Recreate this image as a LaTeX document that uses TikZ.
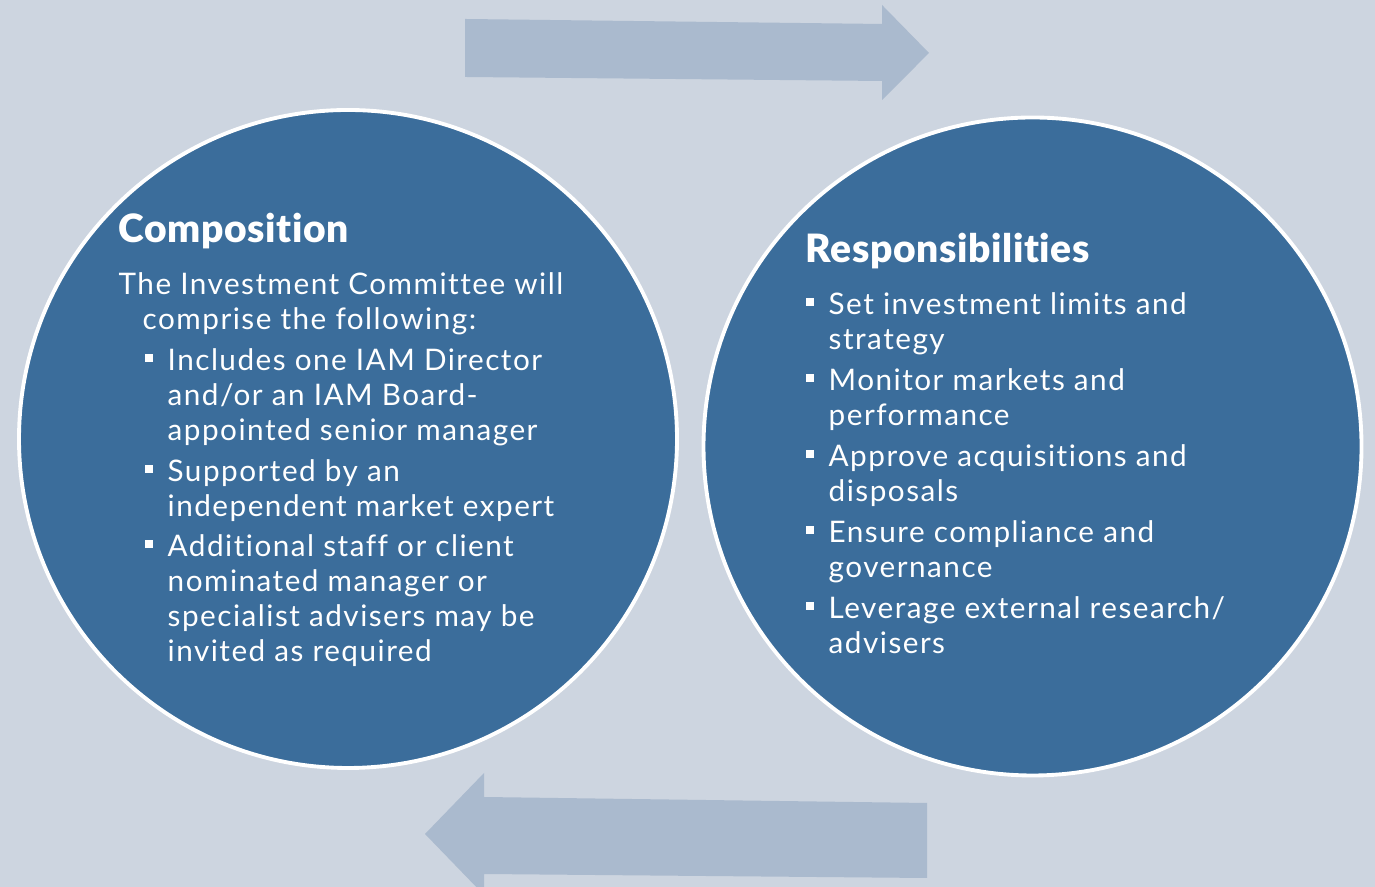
\documentclass[tikz,border=0pt]{standalone}
\usepackage{fontspec}
\setmainfont{Lato}[Ligatures=NoCommon, LetterSpace=5.0, BoldFont=* Black,
    BoldFeatures={LetterSpace=1.5}]
\usepackage{xcolor}
\usepackage{tikz}

\definecolor{backdrop}{HTML}{CDD5E0}
\definecolor{discblue}{HTML}{3B6D9B}
\definecolor{arrowgrey}{HTML}{AABACE}

\tikzset{
    heading/.style={anchor=base west, inner sep=0, text=white,
        font=\fontsize{11.1}{13}\bfseries\selectfont},
    bodytext/.style={anchor=north west, inner sep=0, text=white, align=left,
        font=\fontsize{8.45}{9.96}\selectfont},
    sqmark/.style={fill=white, inner sep=0, minimum size=0.085cm}
}

\begin{document}
\begin{tikzpicture}

    % Background
    \fill[backdrop] (0, 0) rectangle (13.75, 8.87);
    \useasboundingbox (0, 0) rectangle (13.75, 8.87);
    \clip (0, 0) rectangle (13.75, 8.87);

    % Top arrow
    \fill[arrowgrey] (4.65, 8.68) -- (8.82, 8.63) -- (8.82, 8.82) -- (9.29, 8.34)
        -- (8.82, 7.87) -- (8.82, 8.06) -- (4.65, 8.10) -- cycle;

    % Bottom arrow
    \fill[arrowgrey] (4.25, 0.53) -- (4.84, 1.14) -- (4.84, 0.90) -- (9.27, 0.84)
        -- (9.27, 0.09) -- (4.84, 0.13) -- (4.84, -0.08) -- cycle;

    % Discs
    \filldraw[fill=discblue, draw=white, line width=1.1pt] (3.48, 4.48) circle (3.29);
    \filldraw[fill=discblue, draw=white, line width=1.1pt] (10.325, 4.405) circle (3.29);

    % Composition
    \node[heading] (comp) at (1.18, 6.44) {Composition};
    \node[bodytext] (compintro) at (1.18, 6.152)
        {The Investment Committee will\\\hspace*{0.24cm}comprise the following:};
    \node[bodytext] (comp1) at (1.67, 5.392)
        {Includes one IAM Director\\and/or an IAM Board-\\appointed senior manager};
    \node[bodytext] (comp2) at (1.67, 4.282)
        {Supported by an\\independent market expert};
    \node[bodytext] (comp3) at (1.67, 3.532)
        {Additional staff or client\\nominated manager or\\specialist advisers may be\\invited as required};
    \node[sqmark] (b1) at ([xshift=-0.18cm, yshift=-0.1cm]comp1.north west) {};
    \node[sqmark] (b2) at ([xshift=-0.18cm, yshift=-0.1cm]comp2.north west) {};
    \node[sqmark] (b3) at ([xshift=-0.18cm, yshift=-0.1cm]comp3.north west) {};

    % Responsibilities
    \node[heading] (resp) at (8.05, 6.24) {Responsibilities};
    \node[bodytext] (resp1) at (8.28, 5.952) {Set investment limits and\\strategy};
    \node[bodytext] (resp2) at (8.28, 5.192) {Monitor markets and\\performance};
    \node[bodytext] (resp3) at (8.28, 4.432) {Approve acquisitions and\\disposals};
    \node[bodytext] (resp4) at (8.28, 3.672) {Ensure compliance and\\governance};
    \node[bodytext] (resp5) at (8.28, 2.912) {Leverage external research/\\advisers};
    \node[sqmark] (r1) at ([xshift=-0.18cm, yshift=-0.1cm]resp1.north west) {};
    \node[sqmark] (r2) at ([xshift=-0.18cm, yshift=-0.1cm]resp2.north west) {};
    \node[sqmark] (r3) at ([xshift=-0.18cm, yshift=-0.1cm]resp3.north west) {};
    \node[sqmark] (r4) at ([xshift=-0.18cm, yshift=-0.1cm]resp4.north west) {};
    \node[sqmark] (r5) at ([xshift=-0.18cm, yshift=-0.1cm]resp5.north west) {};

\end{tikzpicture}
\end{document}
